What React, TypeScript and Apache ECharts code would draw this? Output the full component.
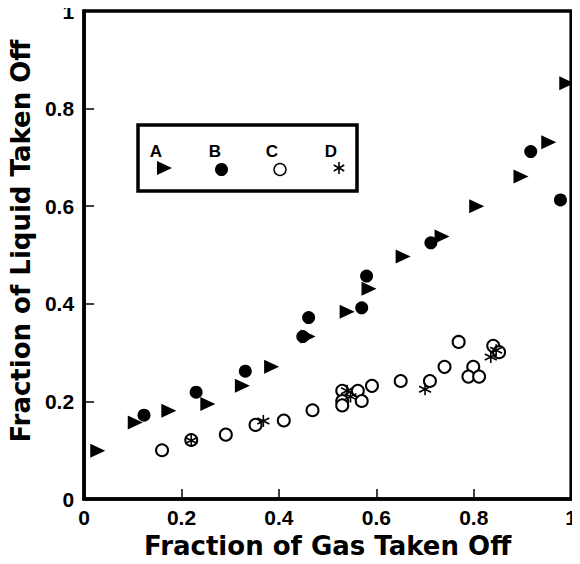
import React, { useEffect, useRef } from "react";
import * as echarts from "echarts";

const seriesNames = ["A", "B", "C", "D"];

const seriesA: [number, number][] = [
  [0.028, 0.099], [0.105, 0.157], [0.174, 0.181], [0.254, 0.195], [0.325, 0.232],
  [0.385, 0.271], [0.46, 0.333], [0.54, 0.384], [0.585, 0.431], [0.655, 0.497],
  [0.735, 0.538], [0.806, 0.6], [0.897, 0.661], [0.954, 0.731], [0.991, 0.852],
];

const seriesB: [number, number][] = [
  [0.123, 0.172], [0.23, 0.219], [0.331, 0.262], [0.449, 0.333], [0.461, 0.372],
  [0.57, 0.392], [0.58, 0.457], [0.712, 0.525], [0.917, 0.712], [0.978, 0.613],
];

const seriesC: [number, number][] = [
  [0.16, 0.1], [0.22, 0.121], [0.291, 0.132], [0.352, 0.152], [0.41, 0.161],
  [0.469, 0.182], [0.53, 0.222], [0.53, 0.201], [0.53, 0.192], [0.562, 0.222],
  [0.57, 0.201], [0.591, 0.232], [0.65, 0.242], [0.71, 0.242], [0.74, 0.271],
  [0.769, 0.322], [0.799, 0.271], [0.789, 0.251], [0.811, 0.251], [0.84, 0.314],
  [0.852, 0.301],
];

const seriesD: [number, number][] = [
  [0.22, 0.12], [0.368, 0.16], [0.54, 0.222], [0.547, 0.21], [0.7, 0.225],
  [0.835, 0.291], [0.846, 0.305],
];

const xTicks = [0, 0.2, 0.4, 0.6, 0.8, 1];
const yTicks = [0, 0.2, 0.4, 0.6, 0.8, 1];
const xTitle = "Fraction of Gas Taken Off";
const yTitle = "Fraction of Liquid Taken Off";

const FONT = "'Liberation Sans', Arial, Helvetica, sans-serif";
const TITLE_FONT = "'DejaVu Sans', 'Liberation Sans', sans-serif";
const TRI = "path://M0,0 L14,7 L0,14 Z";
const STAR = "path://M0,-1 L0,1 M-0.87,-0.5 L0.87,0.5 M-0.87,0.5 L0.87,-0.5";

const fmt = (v: number) => (v === 0 ? "0" : v === 1 ? "1" : String(v));

export default function App() {
  const ref = useRef<HTMLDivElement>(null);
  useEffect(() => {
    if (!ref.current) return;
    const chart = echarts.init(ref.current, null, { renderer: "svg" });
    const axisCommon = {
      min: 0,
      max: 1,
      interval: 0.2,
      axisLine: { show: true, onZero: false, lineStyle: { color: "#000", width: 3.5 } },
      axisTick: { show: true, inside: true, length: 10, lineStyle: { color: "#000", width: 1.5 } },
      splitLine: { show: false },
      nameLocation: "middle" as const,
    };
    const legendX = [156, 215, 272, 331];
    chart.setOption({
      animation: false,
      backgroundColor: "#fff",
      grid: {
        left: 81, right: 4, top: 11, bottom: 64,
        show: true, borderColor: "#000", borderWidth: 3.5, backgroundColor: "transparent",
      },
      xAxis: {
        type: "value",
        ...axisCommon,
        name: xTitle,
        nameGap: 32,
        nameTextStyle: { fontFamily: TITLE_FONT, fontWeight: "bold", fontSize: 26, color: "#000" },
        axisLabel: {
          fontFamily: FONT, fontWeight: "bold", fontSize: 21, color: "#000", margin: 8,
          formatter: (v: number) => (xTicks.includes(v) ? fmt(v) : ""),
        },
      },
      yAxis: {
        type: "value",
        ...axisCommon,
        name: yTitle,
        nameGap: 48,
        nameTextStyle: {
          fontFamily: TITLE_FONT, fontWeight: "bold", fontSize: 26, color: "#000",
          padding: [0, 0, 0, 28],
        },
        axisLabel: {
          fontFamily: FONT, fontWeight: "bold", fontSize: 21, color: "#000", margin: 10,
          formatter: (v: number) => (yTicks.includes(v) ? fmt(v) : ""),
        },
      },
      series: [
        {
          name: seriesNames[0], type: "scatter", data: seriesA, symbol: TRI, symbolSize: [15, 14],
          itemStyle: { color: "#000", opacity: 1 },
        },
        {
          name: seriesNames[1], type: "scatter", data: seriesB, symbol: "circle", symbolSize: 13,
          itemStyle: { color: "#000", opacity: 1 },
        },
        {
          name: seriesNames[2], type: "scatter", data: seriesC, symbol: "emptyCircle", symbolSize: 12,
          itemStyle: { color: "#000", borderColor: "#000", borderWidth: 1.4, opacity: 1 },
        },
        {
          name: seriesNames[3], type: "scatter", data: seriesD, symbol: STAR, symbolSize: 12,
          itemStyle: { color: "none", borderColor: "#000", borderWidth: 1.6, opacity: 1 },
        },
      ],
      graphic: [
        {
          type: "rect",
          shape: { x: 138, y: 125, width: 219, height: 66 },
          style: { fill: "#fff", stroke: "#000", lineWidth: 3.5 },
          z: 10,
        },
        ...seriesNames.map((n, i) => ({
          type: "text",
          x: legendX[i],
          y: 151,
          z: 11,
          style: {
            text: n, fontFamily: FONT, fontWeight: "bold", fontSize: 17, fill: "#000",
            align: "center", verticalAlign: "middle",
          },
        })),
        {
          type: "polygon", z: 11,
          shape: { points: [[157, 161], [172, 168], [157, 175]] },
          style: { fill: "#000" },
        },
        { type: "circle", z: 11, shape: { cx: 221.5, cy: 169.5, r: 6.5 }, style: { fill: "#000" } },
        {
          type: "circle", z: 11, shape: { cx: 280, cy: 169.5, r: 6 },
          style: { fill: "#fff", stroke: "#000", lineWidth: 1.4 },
        },
        { type: "line", z: 11, shape: { x1: 339, y1: 162, x2: 339, y2: 174 }, style: { stroke: "#000", lineWidth: 1.6 } },
        { type: "line", z: 11, shape: { x1: 333.8, y1: 165, x2: 344.2, y2: 171 }, style: { stroke: "#000", lineWidth: 1.6 } },
        { type: "line", z: 11, shape: { x1: 333.8, y1: 171, x2: 344.2, y2: 165 }, style: { stroke: "#000", lineWidth: 1.6 } },
      ],
    });
    return () => chart.dispose();
  }, []);
  return <div ref={ref} style={{ width: 580, height: 564, margin: -8 }} />;
}
